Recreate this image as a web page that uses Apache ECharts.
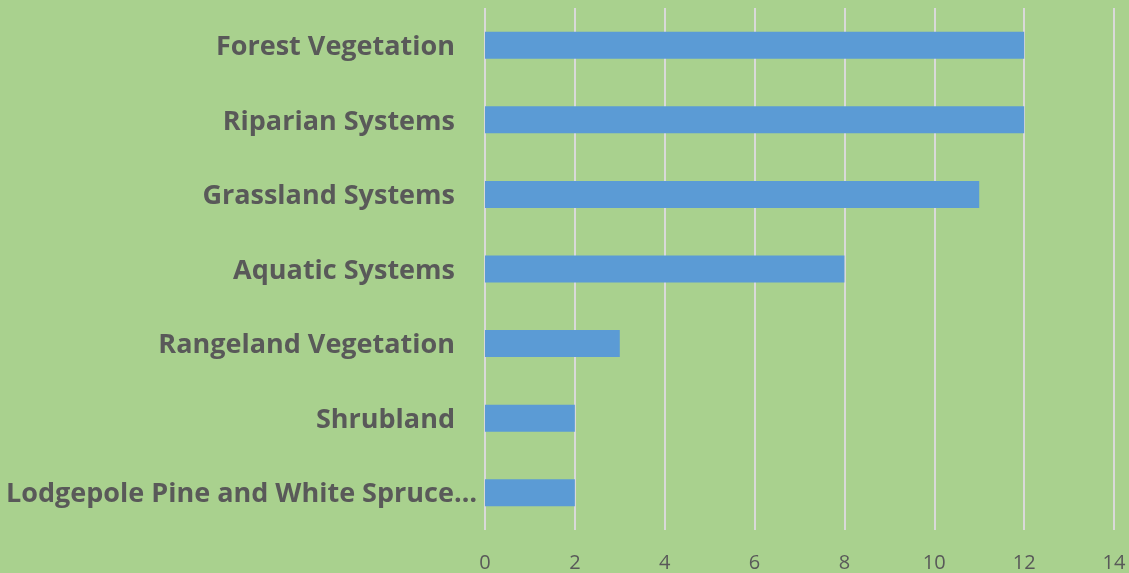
<!DOCTYPE html>
<html>
<head>
<meta charset="utf-8">
<script src="https://cdn.jsdelivr.net/npm/echarts@6/dist/echarts.min.js"></script>
<style>
  html, body { margin: 0; padding: 0; background: #A9D18E; }
  #chart { width: 1129px; height: 573px; }
</style>
</head>
<body>
<div id="chart"></div>
<script>
// top to bottom
const categories = [
  'Forest Vegetation',
  'Riparian Systems',
  'Grassland Systems',
  'Aquatic Systems',
  'Rangeland Vegetation',
  'Shrubland',
  'Lodgepole Pine and White Spruce…'
];
const values = [12, 12, 11, 8, 3, 2, 2];
const xTicks = [0, 2, 4, 6, 8, 10, 12, 14];

const chart = echarts.init(document.getElementById('chart'));

chart.setOption({
  backgroundColor: '#A9D18E',
  animation: false,
  grid: { left: 485, right: 15, top: 8, bottom: 42 },
  xAxis: {
    type: 'value',
    min: xTicks[0],
    max: xTicks[xTicks.length - 1],
    interval: 2,
    axisLine: { show: false },
    axisTick: { show: false },
    splitLine: { lineStyle: { color: '#D9D9D9', width: 2 } },
    axisLabel: {
      color: '#595959',
      fontSize: 20,
      fontFamily: 'Open Sans',
      margin: 23
    }
  },
  yAxis: {
    type: 'category',
    inverse: true,
    data: categories,
    axisLine: { show: false },
    axisTick: { show: false },
    axisLabel: {
      margin: 8,
      formatter: function (v, i) {
        return i === categories.length - 1 ? '{b|' + v + '}' : '{a|' + v + '}';
      },
      rich: {
        a: { color: '#595959', fontSize: 27, fontWeight: 'bold', fontFamily: 'Open Sans', padding: [4, 22, 0, 0] },
        b: { color: '#595959', fontSize: 27, fontWeight: 'bold', fontFamily: 'Open Sans', padding: [4, 0, 0, 0] }
      }
    }
  },
  series: [{
    type: 'bar',
    data: values,
    barWidth: 27,
    itemStyle: { color: '#5B9BD5' }
  }]
});
</script>
</body>
</html>
